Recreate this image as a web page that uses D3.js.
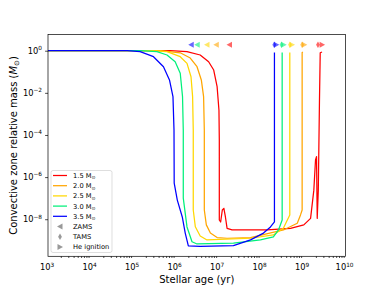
<!DOCTYPE html>
<html>
<head>
<meta charset="utf-8">
<script src="https://cdn.jsdelivr.net/npm/d3@7"></script>
<style>
  body { margin: 0; background: #fff; }
  svg { font-family: "DejaVu Sans", sans-serif; }
</style>
</head>
<body>
<div id="container"></div>
<script>
// evolution tracks: [age (yr), convective zone mass (Msun)]
const track15 = [[1e3,1],[7.5e5,1],[1.86e6,0.9],[3.8e6,0.625],[6.0e6,0.3],[7.9e6,0.121],[9.5e6,0.0196],[1.05e7,1.5e-3],
  [1.07e7,5.8e-5],[1.07e7,9.2e-9],[1.15e7,7.4e-9],[1.26e7,2.75e-8],[1.37e7,3.3e-8],[1.49e7,1.28e-8],[1.63e7,3.7e-9],
  [2.14e7,3.1e-9],[1.43e8,3.1e-9],[5.06e8,3.7e-9],[1.04e9,5.4e-9],[1.5e9,1.1e-8],[1.79e9,2.4e-7],[1.96e9,6.5e-6],
  [2.07e9,9.3e-6],[2.15e9,1.1e-8],[2.28e9,2.4e-7],[2.43e9,4.6e-3],[2.53e9,0.8],[2.79e9,0.87]];
const track20 = [[1e3,1],[4.4e5,1],[1.29e6,0.8],[2.22e6,0.45],[3.2e6,0.174],[4.04e6,0.041],[4.57e6,6.6e-3],[4.75e6,1.7e-4],
  [4.75e6,2.75e-8],[5.3e6,5.4e-9],[6.6e6,2.2e-9],[9.5e6,1.35e-9],[1.63e7,1.25e-9],[5.8e7,1.35e-9],[3.46e8,3.1e-9],
  [7.3e8,6.4e-9],[8.7e8,1.6e-8],[9.5e8,2.75e-8],[9.5e8,0.82],[9.9e8,0.86]];
const track25 = [[1e3,1],[2.5e5,1],[6.3e5,0.9],[1.29e6,0.52],[1.86e6,0.25],[2.31e6,0.058],[2.52e6,6.6e-3],[2.61e6,1.7e-4],
  [2.61e6,2.75e-8],[2.92e6,4.4e-9],[3.8e6,1.6e-9],[5.5e6,1.04e-9],[5.8e7,1.25e-9],[2.0e8,1.8e-9],[3.46e8,3.8e-9],
  [4.07e8,7.6e-9],[4.87e8,1.6e-8],[4.87e8,0.82]];
const track30 = [[1e3,1],[1.47e5,1],[3.65e5,0.9],[6.3e5,0.625],[9.8e5,0.3],[1.29e6,0.085],[1.46e6,6.6e-3],[1.52e6,1.7e-4],
  [1.52e6,1.0e-7],[1.86e6,4.3e-9],[2.44e6,8.5e-10],[3.2e6,6.7e-10],[2.3e7,7.4e-10],[9.9e7,1.04e-9],[2.0e8,1.45e-9],
  [2.64e8,3.1e-9],[3.22e8,9.2e-9],[3.22e8,0.82]];
const track35 = [[1e3,1],[7.3e4,1],[1.47e5,0.9],[3.03e5,0.52],[5.2e5,0.174],[7.2e5,0.041],[8.7e5,6.6e-3],[9.2e5,1.7e-4],
  [9.3e5,5.2e-7],[1.1e6,8.1e-8],[1.44e6,1.28e-8],[1.69e6,2.2e-9],[2.0e6,5.4e-10],[3.8e6,5.1e-10],[2.3e7,5.6e-10],
  [5.8e7,1.05e-9],[1.17e8,2.2e-9],[1.71e8,4.3e-9],[2.12e8,7.4e-9],[2.12e8,0.82]];

const masses = ['1.5', '2.0', '2.5', '3.0', '3.5'];
const tracks = [track15, track20, track25, track30, track35];
const colors = ['#ff0000', '#ffa500', '#ffd700', '#00f07a', '#0000ff'];
// event ages (yr), per mass
const zamsAge = [1.86e7, 9.1e6, 5.5e6, 3.24e6, 2.34e6];
const tamsAge = [2.24e9, 9.5e8, 4.9e8, 3.1e8, 2.1e8];
const heAge = [2.8e9, 1.07e9, 5.5e8, 3.5e8, 2.35e8];
const markerLevel = 1.93;
const xTicks = [3, 4, 5, 6, 7, 8, 9, 10];
const yTicks = [0, -2, -4, -6, -8];

const W = 384, H = 288;
const margin = {left: 48, right: 38.4, top: 34.6, bottom: 31.7};
const iw = W - margin.left - margin.right;
const ih = H - margin.top - margin.bottom;

const svg = d3.select('#container').append('svg')
  .attr('width', W).attr('height', H);
const g = svg.append('g')
  .attr('transform', `translate(${margin.left},${margin.top})`);

const x = d3.scaleLog().domain([1e3, 1e10]).range([0, iw]);
const y = d3.scaleLog().domain([Math.pow(10, -9.76), Math.pow(10, 0.765)]).range([ih, 0]);

// minor x ticks
const minors = [];
for (let e = 3; e < 10; e++) for (let k = 2; k < 10; k++) minors.push(k * Math.pow(10, e));

const xAxisG = g.append('g').attr('transform', `translate(0,${ih})`);
xAxisG.call(d3.axisBottom(x).tickValues(xTicks.map(e => Math.pow(10, e))).tickSize(2.9).tickFormat(''));
xAxisG.call(d3.axisBottom(x).tickValues(minors).tickSize(1.7).tickFormat(''));
const yAxisG = g.append('g');
yAxisG.call(d3.axisLeft(y).tickValues(yTicks.map(e => Math.pow(10, e))).tickSize(2.9).tickFormat(''));
g.selectAll('.domain').remove();
g.selectAll('.tick line').attr('stroke', '#000').attr('stroke-width', 0.7);

function powLabel(sel, e) {
  sel.append('tspan').text('10');
  sel.append('tspan').attr('dy', -3.6).attr('font-size', 5.8).text(e < 0 ? '\u2212' + (-e) : e);
}
xTicks.forEach(e => {
  const t = g.append('text').attr('x', x(Math.pow(10, e)) - 1).attr('y', ih + 14)
    .attr('text-anchor', 'middle').attr('font-size', 8.3).attr('fill', '#000');
  powLabel(t, e);
});
yTicks.forEach(e => {
  const t = g.append('text').attr('x', -6).attr('y', y(Math.pow(10, e)) + 3)
    .attr('text-anchor', 'end').attr('font-size', 8.3).attr('fill', '#000');
  powLabel(t, e);
});

// curves
const line = d3.line().x(d => x(d[0])).y(d => y(d[1]));
const plot = g.append('g');
tracks.forEach((tr, i) => {
  plot.append('path').datum(tr)
    .attr('d', line)
    .attr('fill', 'none')
    .attr('stroke', colors[i])
    .attr('stroke-width', 1.25)
    .attr('stroke-linejoin', 'round');
});

// markers
const triLeft = 'M-3,0L2.5,-3L2.5,3Z';
const triRight = 'M3,0L-2.5,-3L-2.5,3Z';
const diamond = 'M0,-3.2L1.9,0L0,3.2L-1.9,0Z';
const yM = y(markerLevel);
masses.forEach((m, i) => {
  plot.append('path').attr('d', triLeft).attr('transform', `translate(${x(zamsAge[i])},${yM})`)
    .attr('fill', colors[i]).attr('fill-opacity', 0.6);
  plot.append('path').attr('d', diamond).attr('transform', `translate(${x(tamsAge[i])},${yM})`)
    .attr('fill', colors[i]).attr('fill-opacity', 0.6);
  plot.append('path').attr('d', triRight).attr('transform', `translate(${x(heAge[i])},${yM})`)
    .attr('fill', colors[i]).attr('fill-opacity', 0.6);
});

// frame
g.append('rect').attr('width', iw).attr('height', ih)
  .attr('fill', 'none').attr('stroke', '#000').attr('stroke-width', 0.7);

// legend
const lg = g.append('g').attr('transform', `translate(${51 - margin.left},${170.5 - margin.top})`);
lg.append('rect').attr('width', 61).attr('height', 82).attr('rx', 2)
  .attr('fill', '#fff').attr('fill-opacity', 0.8).attr('stroke', '#d0d0d0').attr('stroke-width', 0.7);
const rowY = i => 5 + i * 10.2;
masses.forEach((m, i) => {
  lg.append('line').attr('x1', 2).attr('x2', 16).attr('y1', rowY(i)).attr('y2', rowY(i))
    .attr('stroke', colors[i]).attr('stroke-width', 1.25);
  const t = lg.append('text').attr('x', 22).attr('y', rowY(i) + 2.4).attr('font-size', 6.7).attr('fill', '#000');
  t.append('tspan').text(m + ' M');
  t.append('tspan').attr('dy', 1.5).attr('font-size', 4.8).text('\u2299');
});
const evLabels = ['ZAMS', 'TAMS', 'He ignition'];
const evShapes = [triLeft, diamond, triRight];
evLabels.forEach((lab, j) => {
  const yy = rowY(5 + j);
  lg.append('path').attr('d', evShapes[j]).attr('transform', `translate(9,${yy})`)
    .attr('fill', '#555').attr('fill-opacity', 0.6);
  lg.append('text').attr('x', 22).attr('y', yy + 2.4).attr('font-size', 6.7).attr('fill', '#000').text(lab);
});

// axis labels
svg.append('text').attr('x', margin.left + iw / 2).attr('y', 283)
  .attr('text-anchor', 'middle').attr('font-size', 10).attr('fill', '#000').text('Stellar age (yr)');
const yl = svg.append('text').attr('transform', `translate(17,${margin.top + ih / 2}) rotate(-90)`)
  .attr('text-anchor', 'middle').attr('font-size', 10).attr('fill', '#000');
yl.append('tspan').text('Convective zone relative mass (');
yl.append('tspan').attr('font-style', 'italic').text('M');
yl.append('tspan').attr('dy', 2).attr('font-size', 7).text('\u2299');
yl.append('tspan').attr('dy', -2).text(')');
</script>
</body>
</html>
